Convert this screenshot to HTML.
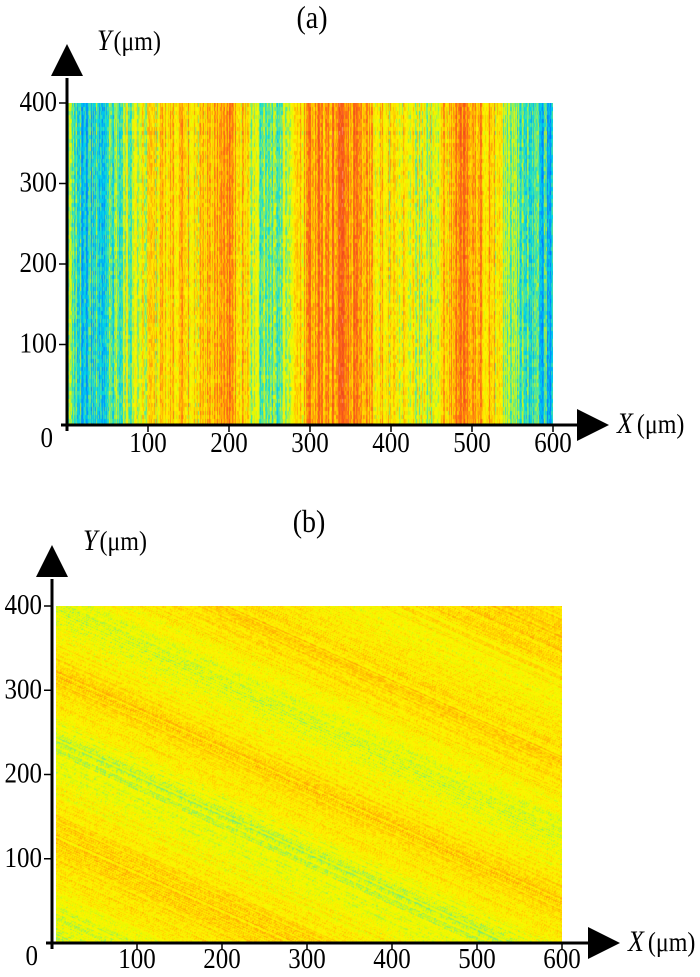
<!DOCTYPE html>
<html><head><meta charset="utf-8">
<style>
html,body{margin:0;padding:0;background:#fff;}
#wrap{position:relative;width:700px;height:977px;overflow:hidden;}
canvas{position:absolute;}
svg{position:absolute;left:0;top:0;}
text{font-family:"Liberation Serif",serif;fill:#000;}
</style></head>
<body>
<div id="wrap">
<canvas id="ca" width="486" height="322" style="left:67px;top:103px"></canvas>
<canvas id="cb" width="506" height="337" style="left:56px;top:606px"></canvas>
<svg id="sv" width="700" height="977"></svg>
</div>
<script>
// Panel (a): column height profile (normalized), sampled every 20 µm from 0 to 600
const aColsUm = [0,20,40,60,80,100,120,140,160,180,200,220,240,260,280,300,320,340,360,380,400,420,440,460,480,500,520,540,560,580,600];
const aLevels = [0.45,0.3,0.32,0.4,0.5,0.55,0.6,0.66,0.58,0.68,0.73,0.58,0.4,0.45,0.57,0.7,0.75,0.77,0.68,0.62,0.58,0.55,0.52,0.57,0.72,0.7,0.67,0.5,0.4,0.32,0.26];
// Panel (b): diagonal band profile along s = y + 0.45x (µm)
const bSUm = [0,40,80,120,160,200,240,280,320,360,400,440,480,520,560,600,640,680];
const bLevels = [0.5,0.53,0.6,0.64,0.6,0.53,0.5,0.58,0.64,0.56,0.5,0.57,0.63,0.6,0.56,0.62,0.64,0.6];
const xTicks = [100,200,300,400,500,600];
const yTicks = [100,200,300,400];

function interp(xs, vs, x){
  if(x<=xs[0]) return vs[0];
  for(let i=1;i<xs.length;i++){ if(x<=xs[i]){const t=(x-xs[i-1])/(xs[i]-xs[i-1]);return vs[i-1]+(vs[i]-vs[i-1])*t;} }
  return vs[vs.length-1];
}
function h(a,b){let n=(a*374761393+b*668265263)|0;n=(n^(n>>>13))*1274126177|0;n=n^(n>>>16);return ((n>>>0)%10000)/10000;}
const stops=[[0,[0,60,255]],[0.2,[0,150,255]],[0.3,[0,215,230]],[0.42,[120,235,120]],[0.5,[230,250,0]],[0.58,[255,245,0]],[0.68,[255,190,0]],[0.78,[255,110,20]],[0.9,[240,70,30]],[1,[255,220,220]]];
function cmap(v){v=Math.max(0,Math.min(1,v));for(let i=1;i<stops.length;i++){if(v<=stops[i][0]){const t=(v-stops[i-1][0])/(stops[i][0]-stops[i-1][0]);const a=stops[i-1][1],b=stops[i][1];return [a[0]+(b[0]-a[0])*t,a[1]+(b[1]-a[1])*t,a[2]+(b[2]-a[2])*t];}}return stops[stops.length-1][1];}

(function(){
  const c=document.getElementById('ca'),ctx=c.getContext('2d'),W=c.width,H=c.height,img=ctx.createImageData(W,H);
  for(let y=0;y<H;y++)for(let x=0;x<W;x++){
    const um=x/W*600;
    let v=interp(aColsUm,aLevels,um)+(h(x,7)-0.5)*0.26+(h(x,Math.floor(y/4))-0.5)*0.14;
    const col=cmap(v),i=(y*W+x)*4;img.data[i]=col[0];img.data[i+1]=col[1];img.data[i+2]=col[2];img.data[i+3]=255;}
  ctx.putImageData(img,0,0);
})();
(function(){
  const c=document.getElementById('cb'),ctx=c.getContext('2d'),W=c.width,H=c.height,img=ctx.createImageData(W,H);
  for(let y=0;y<H;y++)for(let x=0;x<W;x++){
    const ux=x/W*600,uy=(H-y)/H*400,s=uy+0.45*ux;
    let v=interp(bSUm,bLevels,s)+(h(Math.floor(s*1.5),3)-0.5)*0.12+(h(x>>1,y>>1)-0.5)*0.08;
    const col=cmap(v),i=(y*W+x)*4;img.data[i]=col[0];img.data[i+1]=col[1];img.data[i+2]=col[2];img.data[i+3]=255;}
  ctx.putImageData(img,0,0);
})();

const NS='http://www.w3.org/2000/svg',sv=document.getElementById('sv');
function el(tag,attrs,txt){const e=document.createElementNS(NS,tag);for(const k in attrs)e.setAttribute(k,attrs[k]);if(txt!==undefined)e.textContent=txt;sv.appendChild(e);return e;}
function txt(x,y,s,anchor,size,name){const t=el('text',{transform:`translate(${x},${y}) scale(1,1.15)`,'text-anchor':anchor,'font-size':size},s);

return t;}

function panel(p){
  const xs=v=>p.x0+v/600*(p.x6-p.x0), ys=v=>p.y0-v/400*(p.y0-p.y4);
  let a=el('line',{x1:p.x0,y1:p.y0+6,x2:p.x0,y2:p.arY+2,stroke:'#000','stroke-width':3});
  
  
  a=el('line',{x1:p.x0-6,y1:p.y0,x2:p.arX+2,y2:p.y0,stroke:'#000','stroke-width':3});
  
  
  a=el('polygon',{points:`${p.x0-16},${p.arY} ${p.x0+16},${p.arY} ${p.x0},${p.arY-32}`,fill:'#000'});
  
  
  a=el('polygon',{points:`${p.arX},${p.y0-16} ${p.arX},${p.y0+16} ${p.arX+32},${p.y0}`,fill:'#000'});
  
  
  xTicks.forEach(v=>{const X=xs(v);
    const t=el('line',{x1:X,y1:p.y0,x2:X,y2:p.y0+7,stroke:'#000','stroke-width':1.5});
    
    
    txt(X,p.xlY,String(v),'middle',25,'x-tick-label');});
  yTicks.forEach(v=>{const Y=ys(v);
    const t=el('line',{x1:p.x0-8,y1:Y,x2:p.x0,y2:Y,stroke:'#000','stroke-width':1.5});
    
    
    txt(p.x0-10,Y+8,String(v),'end',25,'y-tick-label');});
  txt(p.x0-14,p.y0+22,'0','end',25,'origin-label');
  const yl=el('text',{transform:`translate(${p.ylX},${p.ylY}) scale(1,1.15)`,'font-size':24});
  
  
  yl.innerHTML='<tspan font-style="italic" font-size="26">Y</tspan><tspan dx="2">(μm)</tspan>';
  const xl=el('text',{transform:`translate(${p.arX+40},${p.y0+8}) scale(1,1.15)`,'font-size':24});
  
  
  xl.innerHTML='<tspan font-style="italic" font-size="26">X</tspan><tspan dx="4">(μm)</tspan>';
  txt(p.tX,p.tY,p.title,'middle',28,'panel-title');
}
panel({k:'a',x0:67,x6:553,y0:425,y4:103,arX:577,arY:76,xlY:452,ylX:97,ylY:50,tX:312,tY:28,title:'(a)'});
panel({k:'b',x0:52,x6:562,y0:943,y4:606,arX:588,arY:577,xlY:968,ylX:83,ylY:550,tX:309,tY:532,title:'(b)'});
</script>
</body></html>
